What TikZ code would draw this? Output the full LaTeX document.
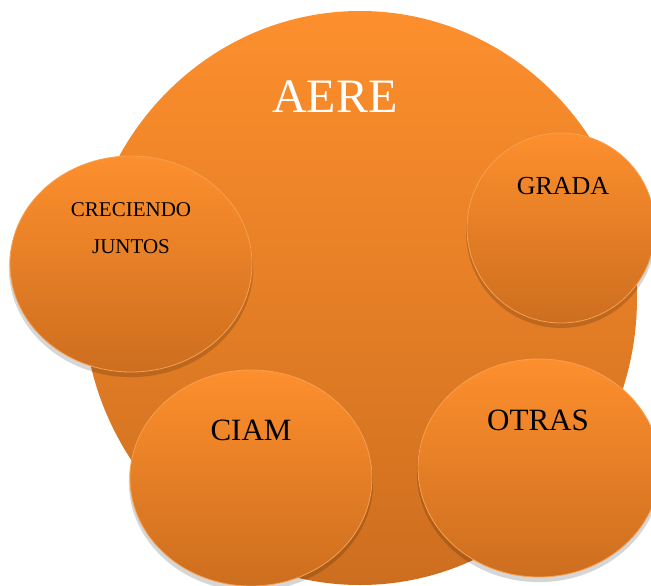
\documentclass[tikz,border=0pt]{standalone}
\usepackage{fontspec}
\setmainfont{Liberation Serif}
\usetikzlibrary{shapes.geometric,shadows}
\definecolor{orTop}{RGB}{253,143,45}
\definecolor{orBot}{RGB}{205,110,31}
\definecolor{orEdge}{RGB}{246,160,80}
\tikzset{
  bubble/.style={ellipse, inner sep=0pt, top color=orTop, bottom color=orBot,
    draw=orEdge, line width=0.8pt,
    drop shadow={shadow xshift=0pt, shadow yshift=-4pt, shadow scale=1.01, fill=black, opacity=0.16}},
  bigbubble/.style={ellipse, inner sep=0pt, top color=orTop, bottom color=orBot, draw=none},
  lbl/.style={anchor=base, inner sep=0pt, text=black}
}
\begin{document}
\begin{tikzpicture}[x=1pt,y=-1pt]
\useasboundingbox (0,0) rectangle (651,586);
\clip (0,0) rectangle (651,586);
\node[bigbubble, minimum width=554pt, minimum height=574pt] (aere) at (360,298) {};
\node[bubble, minimum width=242pt, minimum height=216pt] (crec) at (131,264) {};
\node[bubble, minimum width=188pt, minimum height=190pt] (grada) at (561,228) {};
\node[bubble, minimum width=242pt, minimum height=216pt] (ciam) at (251,478) {};
\node[bubble, minimum width=242pt, minimum height=218pt] (otras) at (539,468) {};
\node[lbl, text=white, font=\fontsize{48}{48}\selectfont] (taere) at (335,113) {AERE};
\node[lbl, font=\fontsize{21}{21}\selectfont] (tcrec) at (131,216) {CRECIENDO};
\node[lbl, font=\fontsize{21}{21}\selectfont] (tjunt) at (131,253) {JUNTOS};
\node[lbl, font=\fontsize{26}{26}\selectfont] (tgrada) at (563,194) {GRADA};
\node[lbl, font=\fontsize{31}{31}\selectfont] (tciam) at (251,440) {CIAM};
\node[lbl, font=\fontsize{31}{31}\selectfont] (totras) at (538,430) {OTRAS};
\end{tikzpicture}
\end{document}
